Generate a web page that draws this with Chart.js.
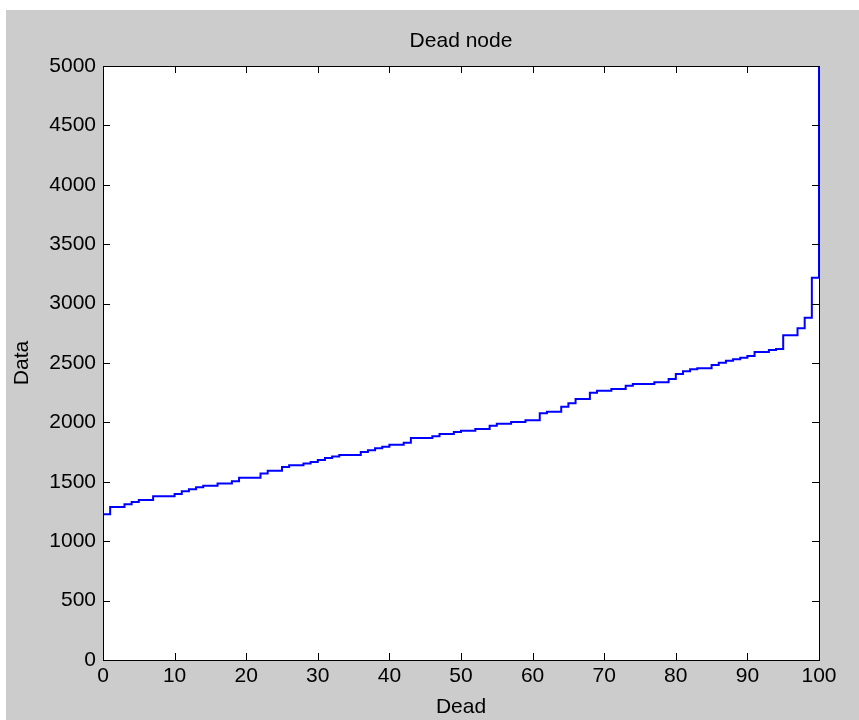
<!DOCTYPE html>
<html>
<head>
<meta charset="utf-8">
<script src="https://cdn.jsdelivr.net/npm/chart.js@4/dist/chart.umd.min.js"></script>
<style>
  html, body { margin: 0; padding: 0; background: #ffffff; }
  #wrap { position: absolute; left: 6px; top: 10px; width: 853px; height: 710px; background: #cccccc; }
</style>
</head>
<body>
<div id="wrap"><canvas id="c"></canvas></div>
<script>
// Dead node count (x) and round value (y) for a stairs plot
const deadCount = [0,
  0, 1, 2, 3, 4, 5, 6, 7, 8, 9,
  10, 11, 12, 13, 14, 15, 16, 17, 18, 19,
  20, 21, 22, 23, 24, 25, 26, 27, 28, 29,
  30, 31, 32, 33, 34, 35, 36, 37, 38, 39,
  40, 41, 42, 43, 44, 45, 46, 47, 48, 49,
  50, 51, 52, 53, 54, 55, 56, 57, 58, 59,
  60, 61, 62, 63, 64, 65, 66, 67, 68, 69,
  70, 71, 72, 73, 74, 75, 76, 77, 78, 79,
  80, 81, 82, 83, 84, 85, 86, 87, 88, 89,
  90, 91, 92, 93, 94, 95, 96, 97, 98, 99,
  100];
const roundData = [0,
  1226, 1288, 1288, 1310, 1330, 1347, 1347, 1378, 1378, 1378,
  1397, 1420, 1437, 1454, 1466, 1466, 1485, 1485, 1505, 1535,
  1535, 1535, 1570, 1594, 1594, 1625, 1639, 1639, 1653, 1667,
  1684, 1700, 1714, 1726, 1726, 1726, 1751, 1765, 1782, 1796,
  1812, 1812, 1829, 1869, 1869, 1869, 1883, 1902, 1902, 1919,
  1930, 1930, 1944, 1944, 1972, 1989, 1989, 2003, 2003, 2018,
  2018, 2078, 2090, 2090, 2132, 2161, 2197, 2197, 2250, 2267,
  2267, 2281, 2281, 2309, 2323, 2323, 2323, 2337, 2337, 2365,
  2407, 2430, 2447, 2455, 2455, 2483, 2503, 2519, 2531, 2545,
  2559, 2593, 2593, 2609, 2618, 2733, 2733, 2792, 2881, 3218,
  5000];
const titleText = 'Dead node';
const xTitle = 'Dead';
const yTitle = 'Data';

const points = deadCount.map((x, i) => ({ x: x, y: roundData[i] }));
const FAMILY = '"Liberation Sans", Arial, sans-serif';
const FONT = { family: FAMILY, size: 21 };

const boxPlugin = {
  id: 'matlabBox',
  beforeDraw(chart) {
    const { ctx, chartArea: a } = chart;
    ctx.save();
    ctx.fillStyle = '#ffffff';
    ctx.fillRect(a.left, a.top, a.right - a.left, a.bottom - a.top);
    ctx.restore();
  },
  afterDatasetsDraw(chart) {
    const { ctx, chartArea: a, scales } = chart;
    const L = 7;
    ctx.save();
    ctx.strokeStyle = '#000000';
    ctx.lineWidth = 1;
    ctx.beginPath();
    scales.x.ticks.forEach(t => {
      const px = Math.round(scales.x.getPixelForValue(t.value)) + 0.5;
      ctx.moveTo(px, a.bottom); ctx.lineTo(px, a.bottom - L);
      ctx.moveTo(px, a.top); ctx.lineTo(px, a.top + L);
    });
    scales.y.ticks.forEach(t => {
      const py = Math.round(scales.y.getPixelForValue(t.value)) + 0.5;
      ctx.moveTo(a.left, py); ctx.lineTo(a.left + L, py);
      ctx.moveTo(a.right, py); ctx.lineTo(a.right - L, py);
    });
    ctx.stroke();
    ctx.strokeRect(Math.round(a.left) + 0.5, Math.round(a.top) + 0.5,
      Math.round(a.right - a.left), Math.round(a.bottom - a.top));
    // title centred over the plot area, as MATLAB does
    ctx.fillStyle = '#000000';
    ctx.font = '21px ' + FAMILY;
    ctx.textAlign = 'center';
    ctx.textBaseline = 'middle';
    ctx.fillText(titleText, (a.left + a.right) / 2, 31);
    ctx.restore();
  }
};

new Chart(document.getElementById('c'), {
  type: 'line',
  data: {
    datasets: [{
      data: points,
      borderColor: '#0000ff',
      borderWidth: 2,
      pointRadius: 0,
      stepped: 'before',
      fill: false,
      tension: 0
    }]
  },
  options: {
    responsive: true,
    maintainAspectRatio: false,
    animation: false,
    layout: { padding: { left: 0, right: 40, top: 56, bottom: 0 } },
    plugins: {
      legend: { display: false },
      tooltip: { enabled: false },
      title: { display: false }
    },
    scales: {
      x: {
        type: 'linear',
        min: 0, max: 100,
        grid: { display: false, drawTicks: false },
        border: { display: false },
        ticks: { stepSize: 10, color: '#000000', font: FONT, padding: 4, maxRotation: 0 },
        title: { display: true, text: xTitle, color: '#000000', font: FONT, padding: { top: 0, bottom: 0 } },
        afterFit(scale) { scale.height = 60; }
      },
      y: {
        type: 'linear',
        min: 0, max: 5000,
        grid: { display: false, drawTicks: false },
        border: { display: false },
        ticks: { stepSize: 500, color: '#000000', font: FONT, padding: 7,
                 callback: v => String(v) },
        title: { display: true, text: yTitle, color: '#000000', font: FONT, padding: { top: 4, bottom: 0 } },
        afterFit(scale) { scale.width = 97; }
      }
    }
  },
  plugins: [boxPlugin]
});
</script>
</body>
</html>
